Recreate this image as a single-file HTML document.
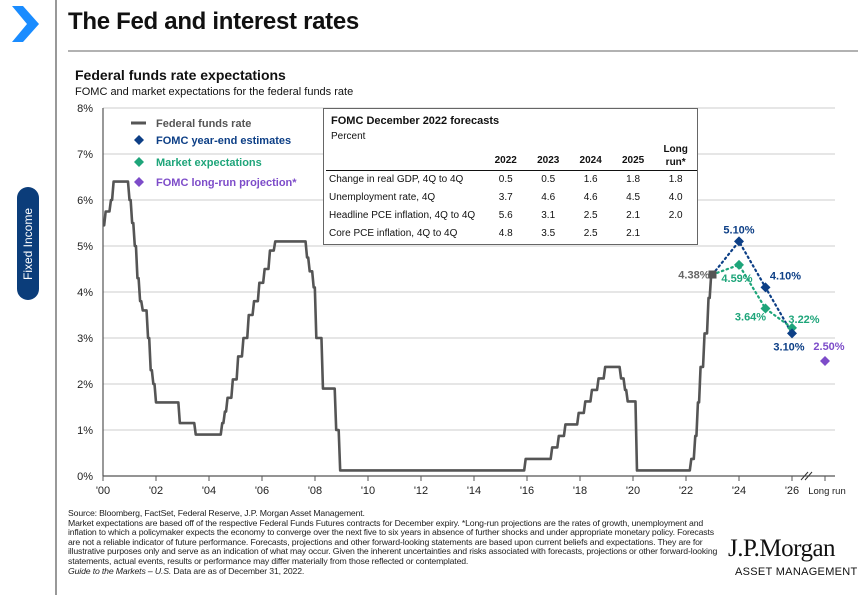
<!DOCTYPE html>
<html><head><meta charset="utf-8"><style>
body{margin:0;width:858px;height:595px;background:#fff;font-family:"Liberation Sans",sans-serif;position:relative;overflow:hidden}
.a{position:absolute}
</style></head><body>
<svg class="a" style="left:0;top:0" width="858" height="595">
<polygon points="12,6 23,6 39,24 23,42 12,42 27,24" fill="#1a8cff"/>
<line x1="56" y1="0" x2="56" y2="595" stroke="#555" stroke-width="1.2"/>
<line x1="68" y1="51" x2="858" y2="51" stroke="#666" stroke-width="1"/>
<rect x="17" y="187" width="22" height="113" rx="11" fill="#0b3d7a"/>
<text transform="translate(32,244) rotate(-90)" text-anchor="middle" fill="#fff" font-size="12" font-family="Liberation Sans">Fixed Income</text>
</svg>
<div class="a" style="left:68px;top:8px;font-size:24px;font-weight:bold;color:#111;letter-spacing:-0.3px">The Fed and interest rates</div>
<div class="a" style="left:75px;top:67px;font-size:14px;font-weight:bold;color:#111">Federal funds rate expectations</div>
<div class="a" style="left:75px;top:86px;font-size:11px;color:#111">FOMC and market expectations for the federal funds rate</div>

<svg id="chart" class="a" style="left:0;top:0" width="858" height="595"></svg>

<div class="a" style="left:323px;top:108px;width:373px;height:135px;border:1.5px solid #666;background:#fff;font-size:10px;color:#111">
<div class="a" style="left:7px;top:6px;font-weight:bold;font-size:11px">FOMC December 2022 forecasts</div>
<div class="a" style="left:7px;top:22px">Percent</div>
<table class="a" style="left:2px;top:0;border-collapse:collapse;font-size:10px">
<tr style="height:61px;font-weight:bold;vertical-align:bottom;border-bottom:1.5px solid #111"><td style="width:164px"></td><td style="width:42px;text-align:center;padding-bottom:4px">2022</td><td style="width:42px;text-align:center;padding-bottom:4px">2023</td><td style="width:42px;text-align:center;padding-bottom:4px">2024</td><td style="width:42px;text-align:center;padding-bottom:4px">2025</td><td style="width:42px;text-align:center;line-height:13px;padding-bottom:1px">Long<br>run*</td></tr>
<tr style="height:18px"><td style="padding:0 0 0 3px">Change in real GDP, 4Q to 4Q</td><td align=center>0.5</td><td align=center>0.5</td><td align=center>1.6</td><td align=center>1.8</td><td align=center>1.8</td></tr>
<tr style="height:18px"><td style="padding:0 0 0 3px">Unemployment rate, 4Q</td><td align=center>3.7</td><td align=center>4.6</td><td align=center>4.6</td><td align=center>4.5</td><td align=center>4.0</td></tr>
<tr style="height:18px"><td style="padding:0 0 0 3px">Headline PCE inflation, 4Q to 4Q</td><td align=center>5.6</td><td align=center>3.1</td><td align=center>2.5</td><td align=center>2.1</td><td align=center>2.0</td></tr>
<tr style="height:18px"><td style="padding:0 0 0 3px">Core PCE inflation, 4Q to 4Q</td><td align=center>4.8</td><td align=center>3.5</td><td align=center>2.5</td><td align=center>2.1</td><td></td></tr>
</table></div>

<div class="a" style="left:68px;top:509px;width:650px;font-size:8.7px;line-height:9.6px;color:#222;letter-spacing:-0.15px">Source: Bloomberg, FactSet, Federal Reserve, J.P. Morgan Asset Management.<br>Market expectations are based off of the respective Federal Funds Futures contracts for December expiry. *Long-run projections are the rates of growth, unemployment and inflation to which a policymaker expects the economy to converge over the next five to six years in absence of further shocks and under appropriate monetary policy. Forecasts are not a reliable indicator of future performance. Forecasts, projections and other forward-looking statements are based upon current beliefs and expectations. They are for illustrative purposes only and serve as an indication of what may occur. Given the inherent uncertainties and risks associated with forecasts, projections or other forward-looking statements, actual events, results or performance may differ materially from those reflected or contemplated.<br><i>Guide to the Markets – U.S.</i> Data are as of December 31, 2022.</div>
<div class="a" style="left:728px;top:535px;font-family:'Liberation Serif',serif;font-size:25px;color:#111;letter-spacing:-0.5px">J.P.Morgan</div>
<div class="a" style="left:735px;top:566px;font-size:11px;color:#111;letter-spacing:0.3px">ASSET MANAGEMENT</div>

<script>
const yTicks=[0,1,2,3,4,5,6,7,8];
const xTickYears=[2000,2002,2004,2006,2008,2010,2012,2014,2016,2018,2020,2022,2024,2026];
const xTickLabels=["'00","'02","'04","'06","'08","'10","'12","'14","'16","'18","'20","'22","'24","'26"];
const ffYears=[2000.0,2000.1,2000.3,2000.4,2001.0,2001.1,2001.2,2001.3,2001.4,2001.5,2001.7,2001.8,2001.9,2002.0,2002.9,2003.5,2004.5,2004.6,2004.7,2004.9,2005.1,2005.3,2005.5,2005.7,2005.9,2006.1,2006.3,2006.5,2007.7,2007.8,2007.95,2008.05,2008.3,2008.8,2008.95,2015.95,2016.95,2017.2,2017.45,2017.95,2018.2,2018.45,2018.7,2018.95,2019.55,2019.7,2019.8,2020.15,2022.2,2022.35,2022.45,2022.55,2022.7,2022.85,2022.95];
const ffRates=[5.45,5.75,6.0,6.4,6.0,5.5,5.0,4.3,3.8,3.6,3.0,2.3,2.0,1.6,1.15,0.9,1.15,1.4,1.7,2.1,2.6,3.0,3.5,3.8,4.2,4.5,4.9,5.1,4.75,4.45,4.1,3.0,1.9,1.0,0.12,0.37,0.62,0.87,1.12,1.37,1.62,1.87,2.12,2.37,2.12,1.87,1.62,0.12,0.37,0.87,1.6,2.37,3.1,3.87,4.38];
const projYears=[2024,2025,2026];
const fomcVals=[5.10,4.10,3.10];
const marketVals=[4.59,3.64,3.22];
const startYear=2023.0, startVal=4.38;
const longRunVal=2.50;

const svg=document.getElementById('chart');const NS='http://www.w3.org/2000/svg';
const x=v=>103+(v-2000)*26.5; const y=v=>476-v*46; const longRunX=825;
function mk(t,a,p){const e=document.createElementNS(NS,t);for(const k in a)e.setAttribute(k,a[k]);(p||svg).appendChild(e);return e;}
yTicks.forEach(t=>{
 if(t>0){const g=mk('line',{x1:103,x2:835,y1:y(t),y2:y(t),stroke:'#ccc','stroke-width':1});
 
 }
 const l=mk('text',{x:93,y:y(t)+4,'text-anchor':'end','font-size':11,fill:'#222'});l.textContent=t+'%';
 
 
});
mk('line',{x1:103,x2:103,y1:y(8),y2:476,stroke:'#555','stroke-width':1.2});
mk('line',{x1:103,x2:835,y1:476,y2:476,stroke:'#555','stroke-width':1.2});
xTickYears.forEach((yr,i)=>{
 mk('line',{x1:x(yr),x2:x(yr),y1:476,y2:481,stroke:'#555'});
 const l=mk('text',{x:x(yr),y:494,'text-anchor':'middle','font-size':11,fill:'#222'});l.textContent=xTickLabels[i];
 
 
});
mk('line',{x1:longRunX,x2:longRunX,y1:476,y2:481,stroke:'#555'});
const lr=mk('text',{x:longRunX+2,y:494,'text-anchor':'middle','font-size':9.5,fill:'#222'});lr.textContent='Long run';


mk('path',{d:'M801,480 L808,472 M805,480 L812,472',stroke:'#333','stroke-width':1});
let d='M'+x(ffYears[0])+','+y(ffRates[0]);
for(let i=1;i<ffYears.length;i++){const xs=x(ffYears[i]);d+=' L'+(xs-1.5)+','+y(ffRates[i-1])+' L'+xs+','+y(ffRates[i]);}
const ff=mk('path',{d:d,fill:'none',stroke:'#555','stroke-width':2.6,'stroke-linejoin':'round'});


function dotted(vals,col,name){let p='M'+x(startYear)+','+y(startVal);vals.forEach((v,i)=>p+=' L'+x(projYears[i])+','+y(v));
 const e=mk('path',{d:p,fill:'none',stroke:col,'stroke-width':2.2,'stroke-dasharray':'1.5 3.5','stroke-linecap':'round'});
 
 }
dotted(fomcVals,'#0d3f86','fomc-line');dotted(marketVals,'#1ea57a','market-line');
function diamond(cx,cy,col,name){const s=5;const e=mk('polygon',{points:`${cx},${cy-s} ${cx+s},${cy} ${cx},${cy+s} ${cx-s},${cy}`,fill:col});
 
 }
function lab(tx,ty,txt,col,anchor){const e=mk('text',{x:tx,y:ty,'text-anchor':anchor||'middle','font-size':11,'font-weight':'bold',fill:col});e.textContent=txt;
 
 }
marketVals.forEach((v,i)=>diamond(x(projYears[i]),y(v),'#1ea57a','market-point'));
fomcVals.forEach((v,i)=>diamond(x(projYears[i]),y(v),'#0d3f86','fomc-point'));
const sq=mk('rect',{x:x(startYear)-4,y:y(startVal)-4,width:8,height:8,fill:'#555'});


diamond(longRunX,y(longRunVal),'#7d4cc9','long-run-point');
lab(x(startYear)-3,y(startVal)+4,startVal.toFixed(2)+'%','#666','end');
lab(x(projYears[0]),y(fomcVals[0])-8,fomcVals[0].toFixed(2)+'%','#0d3f86');
lab(x(projYears[1])+20,y(fomcVals[1])-8,fomcVals[1].toFixed(2)+'%','#0d3f86');
lab(x(projYears[2])-3,y(fomcVals[2])+17,fomcVals[2].toFixed(2)+'%','#0d3f86');
lab(x(projYears[0])-2,y(marketVals[0])+17,marketVals[0].toFixed(2)+'%','#1ea57a');
lab(x(projYears[1])-15,y(marketVals[1])+12,marketVals[1].toFixed(2)+'%','#1ea57a');
lab(x(projYears[2])+12,y(marketVals[2])-5,marketVals[2].toFixed(2)+'%','#1ea57a');
lab(longRunX+4,y(longRunVal)-11,longRunVal.toFixed(2)+'%','#7d4cc9');
const lg=[['line','#555','Federal funds rate',123],['d','#0d3f86','FOMC year-end estimates',140],['d','#1ea57a','Market expectations',162],['d','#7d4cc9','FOMC long-run projection*',182]];
lg.forEach(([k,c,t,yy])=>{
 if(k==='line')mk('rect',{x:131,y:yy-1.5,width:15,height:3,fill:c});else diamond(139,yy,c,'legend-marker');
 const e=mk('text',{x:156,y:yy+4,'font-size':11,'font-weight':'bold',fill:c});e.textContent=t;
 
 
});
</script>
</body></html>
